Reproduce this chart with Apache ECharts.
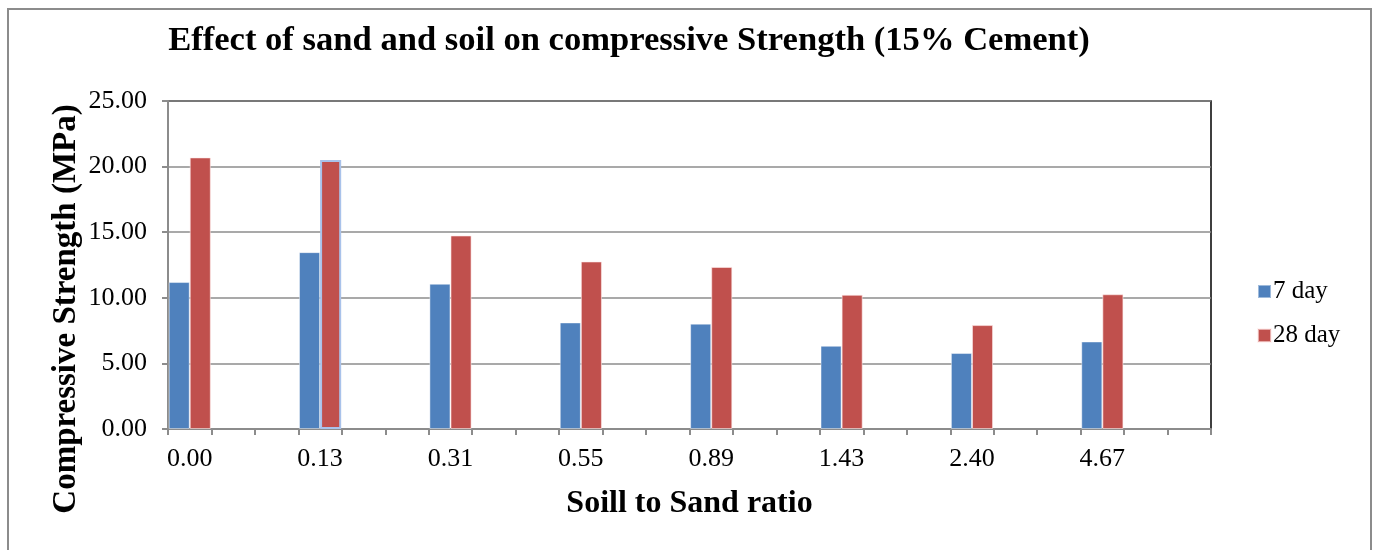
<!DOCTYPE html>
<html>
<head>
<meta charset="utf-8">
<script src="https://cdn.jsdelivr.net/npm/echarts@6/dist/echarts.min.js"></script>
<style>
  html, body { margin: 0; padding: 0; background: #fff; }
  #chart { width: 1377px; height: 550px; }
</style>
</head>
<body>
<div id="chart"></div>
<script>
// Soil-to-sand ratios tested (15% cement mixes)
const ratioLabels = ['0.00', '0.13', '0.31', '0.55', '0.89', '1.43', '2.40', '4.67'];
// Compressive strength, MPa
const day7 = [11.20, 13.48, 11.07, 8.12, 8.03, 6.34, 5.79, 6.67];
const day28 = [20.70, 20.50, 14.75, 12.77, 12.35, 10.23, 7.92, 10.27];
const yTicks = { min: 0, max: 25, step: 5 };

// Each ratio sits in its own slot followed by two empty slots
const SLOTS = 3;
const categories = [];
const day7Data = [];
const day28Data = [];
ratioLabels.forEach((label, i) => {
  for (let k = 0; k < SLOTS; k++) {
    categories.push(k === 0 ? label : '');
    day7Data.push(k === 0 ? day7[i] : null);
    if (k === 0 && i === 1) {
      // outlined bar
      day28Data.push({ value: day28[i], itemStyle: { borderColor: '#A9C2EA', borderWidth: 2 } });
    } else {
      day28Data.push(k === 0 ? day28[i] : null);
    }
  }
});

const serif = '"Liberation Serif", "Times New Roman", serif';
const gray = '#8c8c8c';

const chart = echarts.init(document.getElementById('chart'), null, { renderer: 'canvas' });
chart.setOption({
  animation: false,
  backgroundColor: '#fff',
  title: {
    text: 'Effect of sand and soil on compressive Strength (15% Cement)',
    left: 624,
    top: 19,
    textAlign: 'center',
    textStyle: { fontFamily: serif, fontWeight: 'bold', fontSize: 34.6, color: '#000' }
  },
  legend: {
    orient: 'vertical',
    left: 1252,
    top: 274,
    itemWidth: 13,
    itemHeight: 13,
    itemGap: 19,
    icon: 'rect',
    textStyle: { fontFamily: serif, fontSize: 25, color: '#000', padding: [0, 0, 0, -3] },
    data: ['7 day', '28 day']
  },
  grid: {
    left: 168, top: 101, right: 166, bottom: 121,
    show: true, borderColor: '#000', borderWidth: 1.5, backgroundColor: 'transparent'
  },
  xAxis: {
    type: 'category',
    data: categories,
    boundaryGap: true,
    axisLine: { lineStyle: { color: gray, width: 2 } },
    axisTick: { show: true, interval: 0, length: 6, lineStyle: { color: gray, width: 2 } },
    axisLabel: { interval: 0, margin: 17, fontFamily: serif, fontSize: 26, color: '#000' },
    name: 'Soill to Sand ratio',
    nameLocation: 'middle',
    nameGap: 59,
    nameTextStyle: { fontFamily: serif, fontWeight: 'bold', fontSize: 32, color: '#000' }
  },
  yAxis: {
    type: 'value',
    min: yTicks.min,
    max: yTicks.max,
    interval: yTicks.step,
    axisLine: { show: true, lineStyle: { color: gray, width: 2 } },
    axisTick: { show: true, inside: false, length: 6, lineStyle: { color: gray, width: 2 } },
    splitLine: { lineStyle: { color: gray, width: 1.5 } },
    axisLabel: {
      margin: 21, fontFamily: serif, fontSize: 26, color: '#000',
      formatter: v => v.toFixed(2)
    }
  },
  series: [
    {
      name: '7 day', type: 'bar', data: day7Data,
      barGap: '0%', barCategoryGap: '3%',
      itemStyle: { color: '#4F81BD', borderColor: 'rgba(255,255,255,0.45)', borderWidth: 1 }
    },
    {
      name: '28 day', type: 'bar', data: day28Data,
      barGap: '0%', barCategoryGap: '3%',
      itemStyle: { color: '#C0504D', borderColor: 'rgba(255,235,235,0.6)', borderWidth: 1 }
    }
  ],
  graphic: [
    {
      type: 'rect',
      shape: { x: 8, y: 9, width: 1363, height: 560 },
      style: { fill: 'none', stroke: gray, lineWidth: 2 },
      silent: true
    },
    {
      type: 'text',
      x: 66, y: 309,
      rotation: Math.PI / 2,
      style: {
        text: 'Compressive Strength (MPa)',
        fontFamily: serif, fontWeight: 'bold', fontSize: 33, fill: '#000',
        align: 'center', verticalAlign: 'middle'
      }
    }
  ]
});
</script>
</body>
</html>
